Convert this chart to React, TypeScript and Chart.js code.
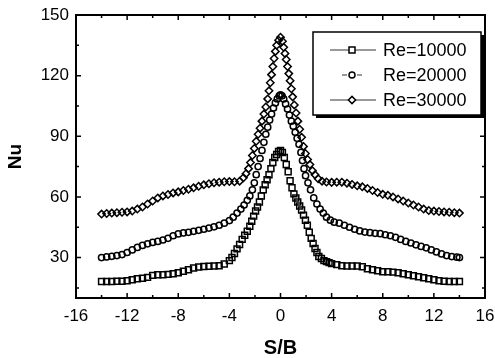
import React, { useEffect, useRef } from "react";
import { Chart, registerables } from "chart.js";

Chart.register(...registerables);

const SERIES_LABELS = ["Re=10000", "Re=20000", "Re=30000"];
const X_TICKS = [-16, -12, -8, -4, 0, 4, 8, 12, 16];
const Y_TICKS = [30, 60, 90, 120, 150];
const X_MINOR = [-14, -10, -6, -2, 2, 6, 10, 14];
const Y_MINOR = [15, 45, 75, 105, 135];

const RE10000_X = [
  -14, -13.6, -13.2, -12.8, -12.4, -12, -11.6, -11.2, -10.8, -10.4, -10, -9.6, -9.2, -8.8, -8.4, -8, -7.6, -7.2,
  -6.8, -6.4, -6, -5.6, -5.2, -4.8, -4.4, -4,
  -3.8, -3.6, -3.4, -3.2, -3.0, -2.8, -2.6, -2.4, -2.25, -2.1, -1.95, -1.8, -1.65, -1.5, -1.35, -1.2, -1.05,
  -0.9, -0.75, -0.6, -0.45, -0.3, -0.15, 0,
  0.15, 0.3, 0.45, 0.6, 0.75, 0.9, 1.05, 1.2, 1.35, 1.5, 1.65, 1.8, 1.95, 2.1, 2.25, 2.4, 2.55, 2.7, 2.85, 3.0,
  3.2, 3.4, 3.6, 3.8, 4.0,
  4.4, 4.8, 5.2, 5.6, 6.0, 6.4, 6.8, 7.2, 7.6, 8.0, 8.4, 8.8, 9.2, 9.6, 10.0, 10.4, 10.8, 11.2, 11.6, 12.0,
  12.4, 12.8, 13.2, 13.6, 14.0,
];
const RE10000_Y = [
  18.2, 18.2, 18.2, 18.3, 18.3, 18.5, 19, 19.5, 19.8, 20.2, 21.2, 21.5, 21.5, 21.7, 22, 22.5, 23.2, 24,
  24.8, 25.3, 25.6, 25.7, 25.8, 26, 26.8, 28.5,
  30, 32, 34.3, 36.5, 39, 41, 43, 45.5, 48, 50.5, 53, 55, 57.5, 60.5, 63.5, 66, 68.5,
  71, 74, 77, 79.5, 81, 82.5, 83,
  82, 79.5, 76, 72.5, 68, 64.5, 61.5, 59.5, 57.5, 55.5, 53.5, 51, 48.5, 46, 42.5, 39.5, 37, 34.5, 32.5, 30.5,
  29.5, 28.5, 28, 27.5, 27,
  26.5, 26, 25.8, 25.8, 25.8, 25.5, 24.5, 24, 23.5, 23, 23, 22.8, 22.5, 22, 21.5, 21, 20.5, 20, 19.5, 19,
  18.5, 18.3, 18.2, 18.2, 18.2,
];

const RE20000_X = [
  -14, -13.6, -13.2, -12.8, -12.4, -12, -11.6, -11.2, -10.8, -10.4, -10, -9.6, -9.2, -8.8, -8.4, -8, -7.6, -7.2,
  -6.8, -6.4, -6, -5.6, -5.2, -4.8, -4.4, -4,
  -3.7, -3.4, -3.1, -2.85, -2.6, -2.4, -2.2, -2.05, -1.9, -1.75, -1.6, -1.45, -1.3, -1.15, -1.0, -0.85, -0.7,
  -0.55, -0.4, -0.25, -0.1, 0,
  0.12, 0.25, 0.4, 0.55, 0.7, 0.85, 1.0, 1.15, 1.3, 1.45, 1.6, 1.72, 1.84, 1.96, 2.15, 2.35, 2.6, 2.85, 3.1,
  3.35, 3.6, 3.9, 4.2,
  4.6, 5.0, 5.4, 5.8, 6.2, 6.6, 7.0, 7.4, 7.8, 8.2, 8.6, 9.0, 9.4, 9.8, 10.2, 10.6, 11.0, 11.4, 11.8, 12.2,
  12.6, 13.0, 13.4, 13.8, 14.0,
];
const RE20000_Y = [
  30, 30.3, 30.6, 31, 31.5, 32.5, 33.8, 35, 36, 36.8, 37.5, 38, 38.7, 39.5, 40.8, 41.7, 42.2, 42.5,
  43, 43.5, 44, 44.6, 45.2, 46, 47, 48.3,
  50, 52, 54, 56, 58.3, 60.5, 63.5, 67, 71, 75, 79, 83, 87, 91, 94.5, 98, 101,
  104, 106.5, 108.5, 110, 110.5,
  110, 108.5, 106, 103.5, 100.5, 97.5, 95, 92, 89, 86, 82, 78, 74, 70.5, 67, 63.5, 59.5, 56.5, 54,
  52, 50, 48.5, 47.5,
  47, 46, 45, 44, 43.2, 42.6, 42.3, 42, 41.8, 41.3, 40.8, 40, 39, 38, 37.2, 36.3, 35.5, 34.8, 33.8, 32.8,
  31.8, 31, 30.5, 30.2, 30,
];

const RE30000_X = [
  -14, -13.6, -13.2, -12.8, -12.4, -12, -11.6, -11.2, -10.8, -10.4, -10, -9.6, -9.2, -8.8, -8.4, -8, -7.6, -7.2,
  -6.8, -6.4, -6, -5.6, -5.2, -4.8, -4.4, -4, -3.6, -3.2,
  -2.9, -2.7, -2.5, -2.35, -2.2, -2.05, -1.9, -1.75, -1.6, -1.45, -1.3, -1.15, -1.0, -0.9, -0.8, -0.7, -0.6,
  -0.5, -0.4, -0.3, -0.15, 0,
  0.15, 0.25, 0.35, 0.45, 0.55, 0.65, 0.75, 0.85, 0.95, 1.08, 1.22, 1.36, 1.5, 1.65, 1.8, 1.95, 2.12, 2.3, 2.5,
  2.7, 2.95, 3.25, 3.6, 4.0,
  4.4, 4.8, 5.2, 5.6, 6.0, 6.4, 6.8, 7.2, 7.6, 8.0, 8.4, 8.8, 9.2, 9.6, 10.0, 10.4, 10.8, 11.2, 11.6, 12.0,
  12.4, 12.8, 13.2, 13.6, 14.0,
];
const RE30000_Y = [
  51.5, 51.8, 52, 52.2, 52.4, 52.6, 53, 54, 55, 56.5, 58, 59.5, 60.5, 61.2, 62, 62.5, 63.2, 63.8,
  64.5, 65.3, 66, 66.5, 67, 67.3, 67.5, 67.6, 67.5, 67.8,
  69.5, 71.5, 74, 77, 80.5, 84, 87.5, 91, 94, 97.5, 101, 104.5, 108.5, 112.5, 116.5, 120.5, 124.5,
  128.5, 132, 135, 137.5, 139,
  137, 134, 131, 128, 124.5, 121, 117.5, 113.5, 109.5, 105.5, 101.5, 97.5, 93.5, 89.5, 85, 81.5, 78.5, 76, 73,
  71, 69, 67.8, 67.4, 67.2,
  67.3, 67.3, 66.8, 66.2, 65.5, 65, 64.2, 63.2, 62.2, 61.3, 60.8, 60, 59, 58, 57, 56, 55, 54, 53.3, 53,
  52.8, 52.6, 52.4, 52.2, 52,
];

const FONT = '"Liberation Sans", Arial, sans-serif';

function pts(xs: number[], ys: number[]) {
  return xs.map((x, i) => ({ x, y: ys[i] }));
}

function drawMarker(ctx: CanvasRenderingContext2D, kind: number, x: number, y: number) {
  ctx.beginPath();
  if (kind === 0) {
    ctx.rect(x - 3, y - 3, 6, 6);
  } else if (kind === 1) {
    ctx.arc(x, y, 3, 0, Math.PI * 2);
  } else {
    ctx.moveTo(x - 3.6, y);
    ctx.lineTo(x, y - 3.6);
    ctx.lineTo(x + 3.6, y);
    ctx.lineTo(x, y + 3.6);
    ctx.closePath();
  }
  ctx.fillStyle = "#fff";
  ctx.fill();
  ctx.stroke();
}

const framePlugin = {
  id: "frameTicks",
  afterDraw(chart: any) {
    const { ctx, chartArea: ca, scales } = chart;
    const xs = scales.x;
    const ys = scales.y;
    ctx.save();
    ctx.strokeStyle = "#000";
    ctx.lineWidth = 1.5;
    const tick = (vals: number[], len: number) => {
      vals.forEach((v) => {
        const px = xs.getPixelForValue(v);
        ctx.beginPath();
        ctx.moveTo(px, ca.bottom);
        ctx.lineTo(px, ca.bottom - len);
        ctx.moveTo(px, ca.top);
        ctx.lineTo(px, ca.top + len);
        ctx.stroke();
      });
    };
    const tickY = (vals: number[], len: number) => {
      vals.forEach((v) => {
        const py = ys.getPixelForValue(v);
        ctx.beginPath();
        ctx.moveTo(ca.left, py);
        ctx.lineTo(ca.left + len, py);
        ctx.moveTo(ca.right, py);
        ctx.lineTo(ca.right - len, py);
        ctx.stroke();
      });
    };
    tick(X_TICKS, 5);
    tick(X_MINOR, 3);
    tickY(Y_TICKS, 5);
    tickY(Y_MINOR, 3);
    ctx.lineWidth = 2;
    ctx.strokeRect(ca.left, ca.top, ca.right - ca.left, ca.bottom - ca.top);

    // legend
    const bw = 168;
    const bh = 83;
    const bx = ca.right - 172;
    const by = ca.top + 17;
    ctx.fillStyle = "#000";
    ctx.fillRect(bx + 3, by + 3, bw, bh);
    ctx.fillStyle = "#fff";
    ctx.fillRect(bx, by, bw, bh);
    ctx.lineWidth = 1.5;
    ctx.strokeRect(bx, by, bw, bh);
    SERIES_LABELS.forEach((label, i) => {
      const ry = by + 18 + i * 25;
      const mx = bx + 39;
      ctx.strokeStyle = "#333";
      ctx.lineWidth = 1;
      ctx.beginPath();
      if (i === 1) {
        ctx.moveTo(mx - 10, ry);
        ctx.lineTo(mx - 5, ry);
        ctx.moveTo(mx + 5, ry);
        ctx.lineTo(mx + 10, ry);
      } else {
        ctx.moveTo(mx - 22, ry);
        ctx.lineTo(mx + 24, ry);
      }
      ctx.stroke();
      ctx.strokeStyle = "#000";
      ctx.lineWidth = 1.5;
      drawMarker(ctx, i, mx, ry);
      ctx.fillStyle = "#000";
      ctx.font = `18px ${FONT}`;
      ctx.textBaseline = "middle";
      ctx.textAlign = "left";
      ctx.fillText(label, bx + 70, ry + 1);
    });
    ctx.restore();
  },
};

export default function App() {
  const ref = useRef<HTMLCanvasElement | null>(null);
  useEffect(() => {
    document.body.style.margin = "0";
    const canvas = ref.current;
    if (!canvas) return;
    const common = {
      showLine: false,
      borderColor: "#000",
      backgroundColor: "rgba(0,0,0,0)",
      borderWidth: 1.5,
    };
    const chart = new Chart(canvas, {
      type: "scatter",
      data: {
        datasets: [
          { ...common, label: SERIES_LABELS[0], data: pts(RE10000_X, RE10000_Y), pointStyle: "rect", pointRadius: 4.2 },
          { ...common, label: SERIES_LABELS[1], data: pts(RE20000_X, RE20000_Y), pointStyle: "circle", pointRadius: 3.1 },
          { ...common, label: SERIES_LABELS[2], data: pts(RE30000_X, RE30000_Y), pointStyle: "rectRot", pointRadius: 3.7 },
        ],
      },
      options: {
        animation: false,
        responsive: false,
        maintainAspectRatio: false,
        layout: { autoPadding: false, padding: { top: 15, right: 10, left: 0, bottom: 0 } },
        plugins: { legend: { display: false }, tooltip: { enabled: false } },
        scales: {
          x: {
            type: "linear",
            min: -16,
            max: 16,
            grid: { display: false, drawTicks: false },
            border: { display: false },
            afterBuildTicks: (s: any) => {
              s.ticks = X_TICKS.map((value) => ({ value }));
            },
            afterFit: (s: any) => {
              s.height = 60;
              s.paddingLeft = 0;
              s.paddingRight = 0;
            },
            ticks: { color: "#000", padding: 8, maxRotation: 0, font: { family: FONT, size: 17 } },
            title: {
              display: true,
              text: "S/B",
              color: "#000",
              font: { family: FONT, size: 20, weight: "bold", lineHeight: 1 },
              padding: { top: 0, bottom: 0 },
            },
          },
          y: {
            type: "linear",
            min: 10,
            max: 150,
            grid: { display: false, drawTicks: false },
            border: { display: false },
            afterBuildTicks: (s: any) => {
              s.ticks = Y_TICKS.map((value) => ({ value }));
            },
            afterFit: (s: any) => {
              s.width = 76;
              s.paddingTop = 0;
              s.paddingBottom = 0;
            },
            ticks: { color: "#000", padding: 7, font: { family: FONT, size: 17 } },
            title: {
              display: true,
              text: "Nu",
              color: "#000",
              font: { family: FONT, size: 19, weight: "bold", lineHeight: 1 },
              padding: { top: 6, bottom: 0 },
            },
          },
        },
      },
      plugins: [framePlugin],
    });
    return () => chart.destroy();
  }, []);
  return (
    <div style={{ width: 495, height: 358 }}>
      <canvas ref={ref} width={495} height={358} />
    </div>
  );
}
